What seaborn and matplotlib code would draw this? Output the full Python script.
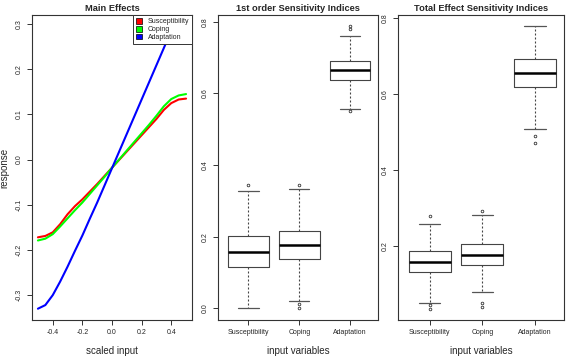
import numpy as np
import pandas as pd
import matplotlib
matplotlib.use("Agg")
import matplotlib.pyplot as plt
from matplotlib.patches import Patch
import seaborn as sns

# main effects curves
x_in = [-0.5, -0.45, -0.4, -0.35, -0.3, -0.25, -0.2, -0.15, -0.1, -0.05, 0.0,
        0.05, 0.1, 0.15, 0.2, 0.25, 0.3, 0.35, 0.4, 0.45, 0.5]
susceptibility = [-0.172, -0.169, -0.161, -0.143, -0.121, -0.103, -0.088, -0.071, -0.054, -0.036, -0.018,
                  0.0, 0.018, 0.036, 0.054, 0.072, 0.090, 0.110, 0.125, 0.133, 0.135]
coping = [-0.179, -0.175, -0.165, -0.148, -0.130, -0.112, -0.095, -0.076, -0.057, -0.038, -0.018,
          0.001, 0.020, 0.039, 0.058, 0.077, 0.097, 0.118, 0.134, 0.142, 0.145]
adaptation = [-0.330, -0.322, -0.300, -0.270, -0.237, -0.202, -0.168, -0.131, -0.095, -0.057, -0.019,
              0.019, 0.057, 0.095, 0.133, 0.171, 0.209, 0.247, 0.285, 0.323, 0.361]

variables = ["Susceptibility", "Coping", "Adaptation"]
colors = ["#FF0000", "#00FF00", "#0000FF"]

# boxplot summaries: lower whisker, q1, median, q3, upper whisker, outliers
first_order = {
    "Susceptibility": (0.000, 0.116, 0.158, 0.202, 0.328, [0.343]),
    "Coping": (0.020, 0.137, 0.176, 0.217, 0.332, [0.344, 0.012, 0.001]),
    "Adaptation": (0.556, 0.637, 0.664, 0.690, 0.759, [0.787, 0.779, 0.551]),
}
total_effect = {
    "Susceptibility": (0.048, 0.131, 0.158, 0.187, 0.258, [0.278, 0.044, 0.034]),
    "Coping": (0.077, 0.149, 0.175, 0.204, 0.282, [0.292, 0.048, 0.038]),
    "Adaptation": (0.507, 0.618, 0.656, 0.693, 0.779, [0.489, 0.470]),
}

sns.set_style("ticks")
plt.rcParams["font.family"] = ["Liberation Sans", "DejaVu Sans"]
plt.rcParams["axes.unicode_minus"] = False

W, H = 567, 356
fig = plt.figure(figsize=(W / 100, H / 100), dpi=100)


def add_ax(x0, x1, y0, y1):
    return fig.add_axes([x0 / W, 1 - y1 / H, (x1 - x0) / W, (y1 - y0) / H])


def style_ax(ax):
    for s in ax.spines.values():
        s.set_color("#333333")
        s.set_linewidth(0.8)
        s.set_visible(True)
    ax.tick_params(axis="both", length=3.5, width=0.7, color="#333333",
                   labelsize=5, pad=3, direction="out")
    for lab in ax.get_yticklabels():
        lab.set_rotation(90)
        lab.set_va("center")


ax1 = add_ax(32, 192, 15, 320)
ax2 = add_ax(218, 378, 15, 320)
ax3 = add_ax(398, 564, 15, 320)

# panel 1: main effects
df = pd.DataFrame({
    "x": x_in * 3,
    "y": susceptibility + coping + adaptation,
    "var": sum([[v] * len(x_in) for v in variables], []),
})
sns.lineplot(data=df, x="x", y="y", hue="var", palette=colors, linewidth=1.5,
             legend=False, ax=ax1)
ax1.set_xlim(-0.54, 0.54)
ax1.set_ylim(-0.355, 0.32)
ax1.set_xticks([-0.4, -0.2, 0.0, 0.2, 0.4])
ax1.set_xticklabels(["-0.4", "-0.2", "0.0", "0.2", "0.4"])
ax1.set_yticks([-0.3, -0.2, -0.1, 0.0, 0.1, 0.2, 0.3])
ax1.set_yticklabels(["-0.3", "-0.2", "-0.1", "0.0", "0.1", "0.2", "0.3"])
ax1.set_xlabel("scaled input", fontsize=7, labelpad=7)
ax1.set_ylabel("response", fontsize=7, labelpad=5)
ax1.set_title("Main Effects", fontsize=6.7, fontweight="bold", pad=3)
handles = [Patch(facecolor=c, edgecolor="black", linewidth=0.5) for c in colors]
leg = ax1.legend(handles, variables, loc="upper right", fontsize=5,
                 frameon=True, fancybox=False, framealpha=1, edgecolor="#333333",
                 borderaxespad=0, handlelength=0.9, handleheight=0.9,
                 handletextpad=0.8, labelspacing=0.1, borderpad=0.4)
leg.get_frame().set_linewidth(0.7)
style_ax(ax1)


def draw_box(ax, summary):
    stats = []
    for name in variables:
        lo, q1, med, q3, hi, fl = summary[name]
        stats.append({"whislo": lo, "q1": q1, "med": med, "q3": q3,
                      "whishi": hi, "fliers": fl, "label": name})
    ax.bxp(stats, positions=[1, 2, 3], widths=0.8, showfliers=True,
           boxprops=dict(color="#444444", linewidth=0.8),
           medianprops=dict(color="black", linewidth=1.8),
           whiskerprops=dict(color="#444444", linewidth=0.8, linestyle=(0, (1.8, 1.8))),
           capprops=dict(color="#555555", linewidth=0.9),
           flierprops=dict(marker="o", markersize=1.9, markerfacecolor="none",
                           markeredgecolor="#333333", markeredgewidth=0.6))
    ax.set_xlim(0.4, 3.55)
    ax.set_xticks([1, 2, 3])
    ax.set_xticklabels(variables)
    ax.set_xlabel("input variables", fontsize=7, labelpad=7)


draw_box(ax2, first_order)
ax2.set_ylim(-0.033, 0.819)
ax2.set_yticks([0.0, 0.2, 0.4, 0.6, 0.8])
ax2.set_yticklabels(["0.0", "0.2", "0.4", "0.6", "0.8"])
ax2.set_title("1st order Sensitivity Indices", fontsize=6.7, fontweight="bold", pad=3)
style_ax(ax2)

draw_box(ax3, total_effect)
ax3.set_ylim(0.004, 0.809)
ax3.set_yticks([0.2, 0.4, 0.6, 0.8])
ax3.set_yticklabels(["0.2", "0.4", "0.6", "0.8"])
ax3.set_title("Total Effect Sensitivity Indices", fontsize=6.7, fontweight="bold", pad=3)
style_ax(ax3)

fig.savefig("out.png", dpi=100, facecolor="white")
